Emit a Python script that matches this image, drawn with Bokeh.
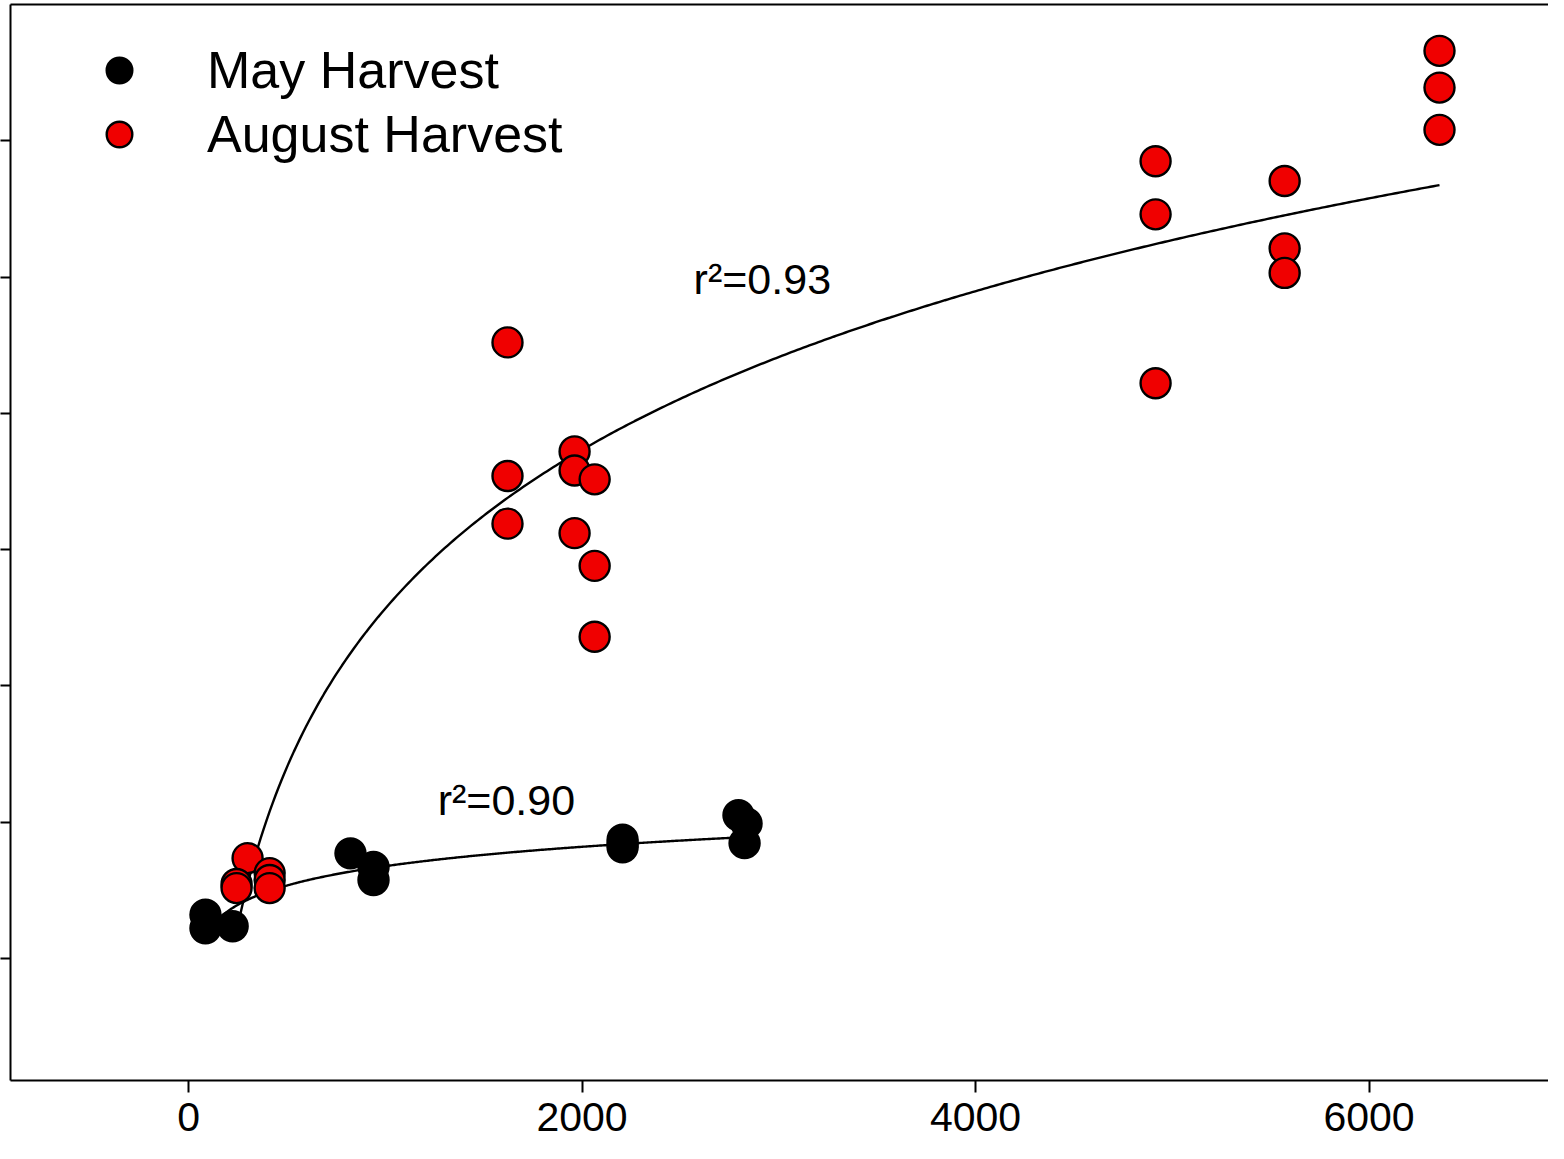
import numpy as np
from bokeh.plotting import figure
from bokeh.models import Range1d, FixedTicker, LinearAxis, Legend, LegendItem, Label
from bokeh.embed import file_html
from bokeh.resources import INLINE

# ---- data ----
may_x = [86, 86, 224, 823, 940, 940, 2206, 2206, 2206, 2795, 2836, 2826]
may_y = [13.2, 12.2, 12.35, 17.7, 16.7, 15.75, 18.7, 18.4, 18.15, 20.5, 19.9, 18.45]

aug_x = [300, 244, 244, 412, 412, 412,
         1621, 1621, 1621, 1962, 1962, 1962, 2064, 2064, 2064,
         4915, 4915, 4915, 5571, 5571, 5571, 6358, 6358, 6358]
aug_y = [17.35, 15.45, 15.15, 16.25, 15.75, 15.15,
         55.2, 45.4, 41.9, 47.2, 45.8, 41.2, 45.15, 38.8, 33.6,
         68.5, 64.6, 52.2, 67.05, 62.1, 60.3, 76.6, 73.9, 70.8]

x_ticks = [0, 2000, 4000, 6000]
y_ticks = [10, 20, 30, 40, 50, 60, 70]

# logarithmic fits  y = a + b*ln(x)
aug_fit = (-80.38, 16.8)
may_fit = (2.6, 2.05)
aug_r2 = "r\u00b2=0.93"
may_r2 = "r\u00b2=0.90"

FONT = "Liberation Sans"

p = figure(width=1548, height=1143, output_backend="svg", toolbar_location=None,
           x_range=Range1d(-905, 6912), y_range=Range1d(1.03, 80.0),
           min_border_left=0, min_border_right=0, min_border_top=4, min_border_bottom=63,
           x_axis_location=None, y_axis_location=None)
p.outline_line_color = None
p.xgrid.visible = False
p.ygrid.visible = False
p.background_fill_color = "white"
p.border_fill_color = "white"

# axes
xax = LinearAxis(ticker=FixedTicker(ticks=x_ticks))
xax.axis_line_width = 2
xax.major_tick_line_width = 2
xax.major_tick_out = 12
xax.major_tick_in = 0
xax.minor_tick_out = 0
xax.minor_tick_in = 0
xax.major_label_text_font = FONT
xax.major_label_text_font_size = "41px"
xax.major_label_text_color = "black"
xax.major_label_standoff = 10
p.add_layout(xax, "below")

yax = LinearAxis(ticker=FixedTicker(ticks=y_ticks))
yax.axis_line_width = 2
yax.major_tick_line_width = 2
yax.major_tick_out = 10
yax.major_tick_in = 0
yax.minor_tick_out = 0
yax.minor_tick_in = 0
yax.major_label_text_font_size = "0px"
yax.major_label_standoff = 0
yax.major_label_overrides = {t: "" for t in y_ticks}
p.add_layout(yax, "left")

top = LinearAxis(ticker=FixedTicker(ticks=[]))
top.axis_line_width = 2
top.major_tick_out = 0
top.major_tick_in = 0
top.minor_tick_out = 0
top.minor_tick_in = 0
top.major_label_text_font_size = "0px"
top.major_label_standoff = 0
p.add_layout(top, "above")

# fitted curves
ax = np.linspace(min(aug_x), max(aug_x), 400)
p.line(ax, aug_fit[0] + aug_fit[1] * np.log(ax), line_color="black", line_width=2.4)
mx = np.linspace(min(may_x), max(may_x), 400)
p.line(mx, may_fit[0] + may_fit[1] * np.log(mx), line_color="black", line_width=2.4)

r_may = p.scatter(may_x, may_y, size=30, fill_color="black", line_color="black", line_width=2.4)
r_aug = p.scatter(aug_x, aug_y, size=30, fill_color="#f00000", line_color="black", line_width=2.4)

legend = Legend(items=[LegendItem(label="May Harvest", renderers=[r_may]),
                       LegendItem(label="August Harvest", renderers=[r_aug])],
                location="top_left")
legend.margin = 34
legend.padding = 0
legend.glyph_width = 150
legend.glyph_height = 64
legend.label_height = 64
legend.spacing = 0
legend.label_standoff = 13
legend.label_text_font = FONT
legend.label_text_font_size = "52px"
legend.label_text_color = "black"
legend.border_line_color = None
legend.background_fill_alpha = 0
p.add_layout(legend)

p.add_layout(Label(x=2567, y=59.85, text=aug_r2, text_font=FONT, text_font_size="43px",
                   text_baseline="alphabetic", text_color="black"))
p.add_layout(Label(x=1266, y=21.6, text=may_r2, text_font=FONT, text_font_size="43px",
                   text_baseline="alphabetic", text_color="black"))

open("out.html", "w").write(file_html(p, INLINE))
